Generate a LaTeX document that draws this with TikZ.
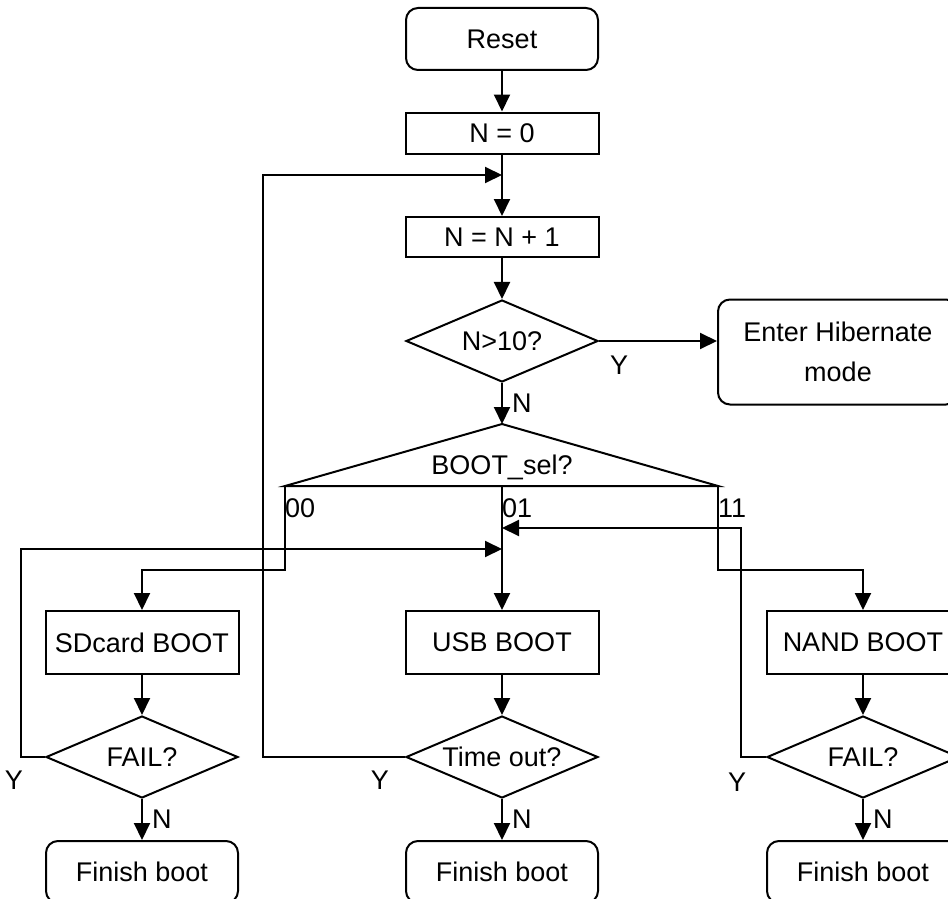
\documentclass[tikz,border=0pt]{standalone}
\usepackage{fontspec}
\setmainfont{Liberation Sans}
\usetikzlibrary{shapes.geometric,arrows.meta,calc}
\tikzstyle{proc}=[draw,
                  line width=2pt,
                  minimum width=193pt,
                  minimum height=41pt,
                  inner sep=0pt]
\tikzstyle{bootbox}=[proc,
                     minimum height=63pt]
\tikzstyle{term}=[draw,
                  line width=2pt,
                  rounded corners=12pt,
                  minimum width=192pt,
                  minimum height=62pt,
                  inner sep=0pt]
\tikzstyle{decide}=[diamond,
                    draw,
                    line width=2pt,
                    aspect=2.3,
                    minimum width=192pt,
                    minimum height=82pt,
                    inner sep=0pt]
\tikzstyle{flow}=[line width=2pt,-{Triangle[length=17pt,width=16pt]}]
\tikzstyle{lbl}=[inner sep=0pt]

\begin{document}
\begin{tikzpicture}[x=1pt,y=-1pt,font=\fontsize{27}{40}\selectfont]
    \useasboundingbox (0,0) rectangle (948,899);
    % main column
    \node[term] (reset) at (502,39) {Reset};
    \node[proc, below of=reset, node distance=94pt] (n0) {N = 0};
    \node[proc, below of=n0, node distance=104pt, minimum height=40pt] (ninc) {N = N + 1};
    \node[decide, below of=ninc, node distance=104pt] (chk) {N>10?};
    \node[term, minimum width=240pt, minimum height=105pt, align=center] (hib) at (838,352) {Enter Hibernate\\mode};
    \coordinate (seltop) at (502,424);
    \coordinate (sell) at (285,486);
    \coordinate (selm) at (502,486);
    \coordinate (selr) at (718,486);
    \node[lbl] (sellbl) at (502,467) {BOOT\_sel?};
    % boot columns
    \node[bootbox] (usb) at (502,642.5) {USB BOOT};
    \node[bootbox, left of=usb, node distance=360pt] (sd) {SDcard BOOT};
    \node[bootbox, right of=usb, node distance=361pt] (nand) {NAND BOOT};
    \node[decide, below of=usb, node distance=114.5pt] (usbto) {Time out?};
    \node[decide, left of=usbto, node distance=360pt] (sdfail) {FAIL?};
    \node[decide, right of=usbto, node distance=361pt] (nandfail) {FAIL?};
    \node[term, below of=usbto, node distance=115pt] (usbfin) {Finish boot};
    \node[term, below of=sdfail, node distance=115pt] (sdfin) {Finish boot};
    \node[term, below of=nandfail, node distance=115pt] (nandfin) {Finish boot};
    % joins on the middle line
    \coordinate (j1) at (502,175);
    \coordinate (j2) at (502,528);
    \coordinate (j3) at (502,549);

    \draw[line width=2pt, line join=miter] (sell) -- (seltop) -- (selr) -- cycle;
    \draw[flow] (reset) -- (n0);
    \draw[flow] (n0) -- (ninc);
    \draw[flow] (ninc) -- (chk);
    \draw[flow] (chk.east) -- node[lbl, pos=0.17, below=14pt] {Y} (chk.east -| hib.west);
    \draw[flow] (chk.south) -- node[lbl, right=9pt] {N} (seltop);
    \draw[flow] (selm) -- (usb.north);
    \draw[flow] (sell) -- ++(0,84) -| (sd.north);
    \draw[flow] (selr) -- ++(0,84) -| (nand.north);
    \node[lbl, anchor=west] at ([yshift=-22pt]sell) {00};
    \node[lbl, anchor=west] at ([yshift=-22pt]selm) {01};
    \node[lbl, anchor=west] at ([yshift=-22pt]selr) {11};
    \draw[flow] (sd) -- (sdfail);
    \draw[flow] (usb) -- (usbto);
    \draw[flow] (nand) -- (nandfail);
    \draw[flow] (sdfail) -- node[lbl, right=9pt] {N} (sdfin);
    \draw[flow] (usbto) -- node[lbl, right=9pt] {N} (usbfin);
    \draw[flow] (nandfail) -- node[lbl, right=9pt] {N} (nandfin);
    % retry loops
    \draw[flow] (sdfail.west) -- ++(-24,0) |- (j3);
    \draw[flow] (usbto.west) -- ++(-142,0) |- (j1);
    \draw[flow] (nandfail.west) -- ++(-25,0) |- (j2);
    \node[lbl] at ([shift={(-31pt,-23pt)}]sdfail.west) {Y};
    \node[lbl] at ([shift={(-25pt,-23pt)}]usbto.west) {Y};
    \node[lbl] at ([shift={(-29pt,-25pt)}]nandfail.west) {Y};
 \end{tikzpicture}
\end{document}
